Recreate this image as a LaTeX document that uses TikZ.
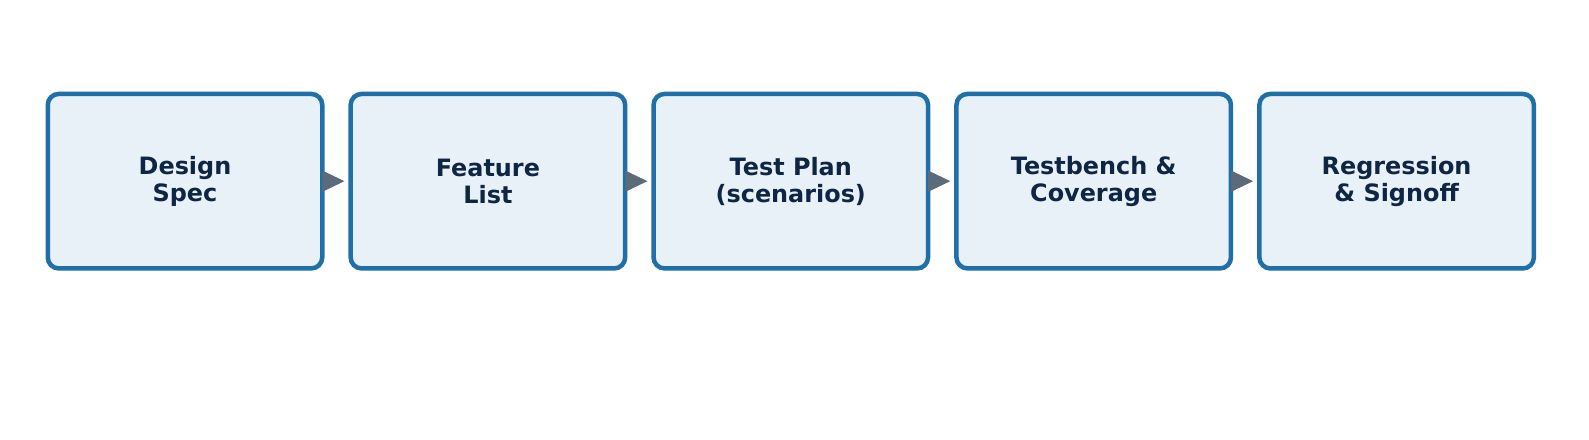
\documentclass[tikz,border=0pt]{standalone}
\usepackage{fontspec}
\setmainfont{DejaVu Sans}
\usetikzlibrary{arrows.meta}
\definecolor{boxline}{HTML}{1F6FA8}
\definecolor{boxfill}{HTML}{E9F1F8}
\definecolor{boxtext}{HTML}{0F2544}
\definecolor{arrowgray}{HTML}{5B6B79}
\tikzset{
  stage/.style={draw=boxline, fill=boxfill, line width=0.045cm, rounded corners=0.11cm,
    minimum width=2.745cm, minimum height=1.745cm, align=center, text=boxtext,
    font=\fontsize{6.8pt}{7.7pt}\selectfont\bfseries},
  flow/.style={draw=arrowgray, line width=0.01cm, -{Triangle[length=0.22cm, width=0.21cm, fill=arrowgray]}, shorten >=0.04cm}
}
\begin{document}
\begin{tikzpicture}
                    \useasboundingbox (0,0) rectangle (15.890000,4.400000);
                    
                    % Stage boxes
                    \node [stage] (design) at (1.850000,2.588000) {Design\\Spec};%
                    \node [stage] (feature) at (4.879000,2.588000) {Feature\\List};%
                    \node [stage] (plan) at (7.908000,2.588000) {Test Plan\\(scenarios)};%
                    \node [stage] (bench) at (10.937000,2.588000) {Testbench \&\\Coverage};%
                    \node [stage] (signoff) at (13.966000,2.588000) {Regression\\\& Signoff};%
                    
                    % Arrows between stages
                    \draw [flow] (design.east) -- (feature.west);%
                    \draw [flow] (feature.east) -- (plan.west);%
                    \draw [flow] (plan.east) -- (bench.west);%
                    \draw [flow] (bench.east) -- (signoff.west);%
\end{tikzpicture}
\end{document}
